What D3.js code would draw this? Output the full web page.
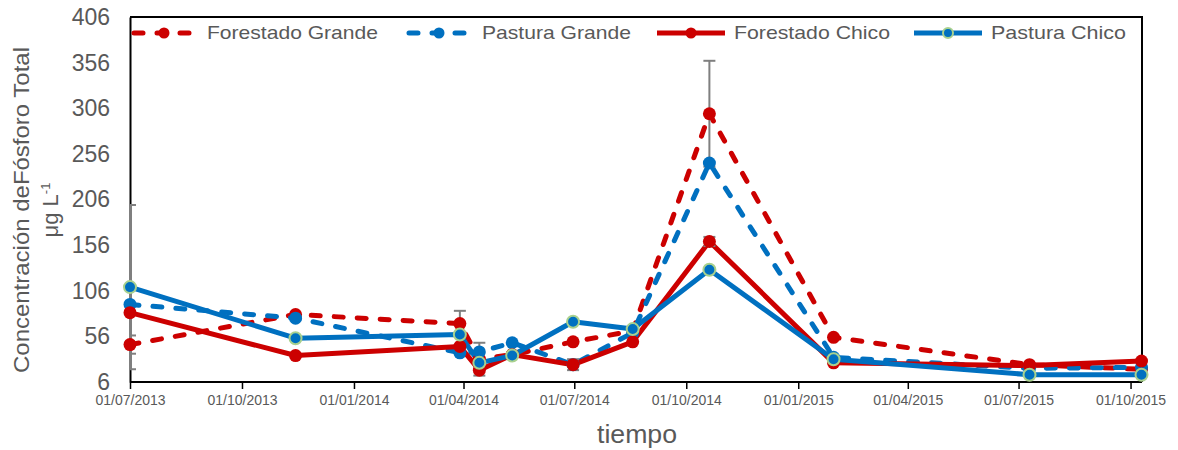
<!DOCTYPE html>
<html lang="es">
<head>
<meta charset="UTF-8">
<title>Fósforo Total</title>
<script src="https://d3js.org/d3.v7.min.js"></script>
<style>
    body { margin: 0; background: #fff; }
    svg { font-family: "Liberation Sans", Arial, sans-serif; }
    .lbl { fill: #595959; }
</style>
</head>
<body>
<div id="chart"></div>
<script>
    // fechas de muestreo
    var fechas = ["2013-07-01", "2013-11-14", "2014-03-29", "2014-04-14", "2014-05-11",
                  "2014-06-30", "2014-08-18", "2014-10-20", "2015-01-30", "2015-07-10", "2015-10-10"];

    var forestadoGrande = [47, 80, 70, 31, 36, 50, 62, 300, 55, 25, 20];
    var pasturaGrande   = [91, 76, 38, 39, 49, 25, 60, 246, 33, 21, 22];
    var forestadoChico  = [82, 35, 45, 19, 36, 25, 50, 160, 27, 24, 29];
    var pasturaChico    = [110, 54, 58, 27, 35, 72, 64, 129, 31, 14, 14];

    // barras de error (null = sin barra)
    var errForestadoGrande = [10, null, 14, 18, null, null, null, 58, null, null, null];
    var errForestadoChico  = [null, null, null, null, null, 6, null, 5, null, null, null];
    var errPasturaChico    = [90, null, null, null, null, null, null, null, null, null, null];

    var yTicks = [6, 56, 106, 156, 206, 256, 306, 356, 406];
    var xTicks = ["2013-07-01", "2013-10-01", "2014-01-01", "2014-04-01", "2014-07-01",
                  "2014-10-01", "2015-01-01", "2015-04-01", "2015-07-01", "2015-10-01"];

    var RED = "#cc0000", BLUE = "#0070c0", GREEN = "#a9d18e";

    var parse = d3.timeParse("%Y-%m-%d");
    var fmt = d3.timeFormat("%d/%m/%Y");
    var dates = fechas.map(parse);

    var series = [
        {name: "Forestado Grande", values: forestadoGrande, err: errForestadoGrande, color: RED, dashed: true, ring: false},
        {name: "Pastura Grande", values: pasturaGrande, err: null, color: BLUE, dashed: true, ring: false},
        {name: "Forestado Chico", values: forestadoChico, err: errForestadoChico, color: RED, dashed: false, ring: false},
        {name: "Pastura Chico", values: pasturaChico, err: errPasturaChico, color: BLUE, dashed: false, ring: true}
    ];

    var W = 1178, H = 450;
    var pL = 130, pR = 1142, pT = 17, pB = 382;

    var svg = d3.select("#chart").append("svg")
        .attr("width", W)
        .attr("height", H);

    var x = d3.scaleTime()
        .domain([parse("2013-07-01"), parse("2015-10-10")])
        .range([pL, 1141.5]);
    var y = d3.scaleLinear()
        .domain([6, 406])
        .range([pB, pT]);

    svg.append("defs").append("clipPath").attr("id", "plotclip")
        .append("rect")
        .attr("x", pL).attr("y", pT)
        .attr("width", pR - pL).attr("height", pB - pT);

    // marco
    svg.append("path")
        .attr("d", `M${pL},${pT}H${pR}V${pB}`)
        .attr("fill", "none")
        .attr("stroke", "#000")
        .attr("stroke-width", 2);

    // eje y
    var yAxis = svg.append("g")
        .attr("transform", `translate(${pL},0)`)
        .call(d3.axisLeft(y).tickValues(yTicks).tickSize(0).tickPadding(20).tickFormat(d3.format("d")));
    yAxis.select(".domain").attr("stroke", "#000").attr("stroke-width", 2);
    yAxis.selectAll("text")
        .attr("class", "lbl")
        .style("font-size", "23px");

    // eje x
    var xAxis = svg.append("g")
        .attr("transform", `translate(0,${pB})`)
        .call(d3.axisBottom(x).tickValues(xTicks.map(parse)).tickSize(7).tickPadding(6).tickFormat(fmt));
    xAxis.select(".domain").attr("stroke", "#000").attr("stroke-width", 2)
        .attr("d", `M${pL},0H${pR}`);
    xAxis.selectAll(".tick line").attr("stroke", "#000").attr("stroke-width", 1.5);
    xAxis.selectAll("text")
        .attr("class", "lbl")
        .style("font-size", "14px");

    // títulos
    svg.append("text")
        .attr("class", "lbl")
        .attr("x", 637).attr("y", 443)
        .attr("text-anchor", "middle")
        .style("font-size", "25px")
        .attr("textLength", 80)
        .attr("lengthAdjust", "spacingAndGlyphs")
        .text("tiempo");

    var yt = svg.append("text")
        .attr("class", "lbl")
        .attr("transform", "translate(0,210) rotate(-90)")
        .attr("text-anchor", "middle")
        .style("font-size", "22px");
    yt.append("tspan").attr("x", 0).attr("y", 29)
        .attr("textLength", 326)
        .attr("lengthAdjust", "spacingAndGlyphs")
        .text("Concentración deFósforo Total");
    var t2 = yt.append("tspan").attr("x", 0).attr("y", 58);
    t2.append("tspan").text("μg L");
    t2.append("tspan").attr("dy", -8).style("font-size", "13px").text("-1");

    var line = d3.line()
        .x((d, i) => x(dates[i]))
        .y(d => y(d));

    // líneas
    series.forEach(s => {
        svg.append("path")
            .datum(s.values)
            .attr("d", line)
            .attr("fill", "none")
            .attr("stroke", s.color)
            .attr("stroke-width", 5)
            .attr("stroke-linejoin", "round")
            .attr("stroke-linecap", s.dashed ? "round" : "butt")
            .attr("stroke-dasharray", s.dashed ? "9,14" : null);
    });

    // barras de error
    var eg = svg.append("g").attr("clip-path", "url(#plotclip)")
        .attr("stroke", "#7f7f7f").attr("stroke-width", 2);
    series.forEach(s => {
        if (!s.err) return;
        s.err.forEach((e, i) => {
            if (e == null) return;
            var cx = x(dates[i]);
            var y0 = y(s.values[i] - e), y1 = y(s.values[i] + e);
            eg.append("line").attr("x1", cx).attr("x2", cx).attr("y1", y0).attr("y2", y1);
            eg.append("line").attr("x1", cx - 6).attr("x2", cx + 6).attr("y1", y0).attr("y2", y0);
            eg.append("line").attr("x1", cx - 6).attr("x2", cx + 6).attr("y1", y1).attr("y2", y1);
        });
    });

    // marcadores
    series.forEach(s => {
        svg.append("g").selectAll("circle")
            .data(s.values)
            .join("circle")
            .attr("cx", (d, i) => x(dates[i]))
            .attr("cy", d => y(d))
            .attr("r", s.ring ? 6 : 6.5)
            .attr("fill", s.color)
            .attr("stroke", s.ring ? GREEN : "none")
            .attr("stroke-width", 2);
    });

    // leyenda
    var legX = [130, 405, 657, 914];
    var legW = [171, 149, 156, 135];
    var leg = svg.append("g");
    series.forEach((s, i) => {
        var g = leg.append("g").attr("transform", `translate(${legX[i]},33)`);
        g.append("line")
            .attr("x1", s.dashed ? 4 : 0).attr("x2", s.dashed ? 64 : 68)
            .attr("stroke", s.color)
            .attr("stroke-width", 5)
            .attr("stroke-linecap", s.dashed ? "round" : "butt")
            .attr("stroke-dasharray", s.dashed ? "9,14" : null);
        g.append("circle")
            .attr("cx", 34).attr("r", s.ring ? 5 : 5.5)
            .attr("fill", s.color)
            .attr("stroke", s.ring ? GREEN : "none")
            .attr("stroke-width", 2);
        g.append("text")
            .attr("class", "lbl")
            .attr("x", 77).attr("y", 6)
            .style("font-size", "19px")
            .attr("textLength", legW[i])
            .attr("lengthAdjust", "spacingAndGlyphs")
            .text(s.name);
    });
</script>
</body>
</html>
